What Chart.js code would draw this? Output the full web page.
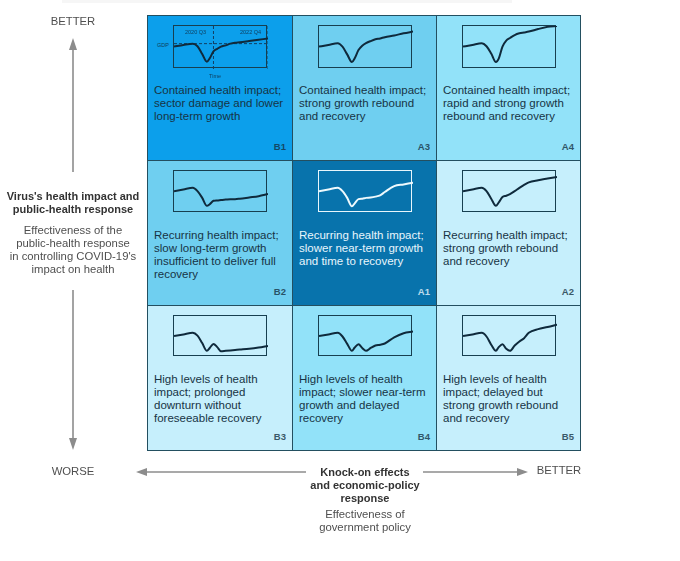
<!DOCTYPE html>
<html>
<head>
<meta charset="utf-8">
<script src="https://cdn.jsdelivr.net/npm/chart.js@4"></script>
<style>
  html, body { margin: 0; padding: 0; background: #fff; }
  body { width: 680px; height: 561px; position: relative; overflow: hidden; font-family: "Liberation Sans", sans-serif; filter: blur(0.3px); }
  #top-band { position: absolute; left: 62px; top: 0; width: 450px; height: 3px; background: #f6f6f6; }
  .cell { position: absolute; box-sizing: border-box; border: 1px solid #234f60; color: #173445; }
  .frame { position: absolute; box-sizing: border-box; border: 1.2px solid #173f50; }
  .frame canvas { position: absolute; left: 0; top: 0; }
  .desc { position: absolute; font-size: 11.5px; line-height: 12.9px; white-space: nowrap; }
  .code { position: absolute; font-size: 9.5px; font-weight: bold; right: 6px; bottom: 8px; opacity: .8; }
  .tiny { position: absolute; font-size: 5.5px; white-space: nowrap; color: #0f3d5c; }
  .label { position: absolute; text-align: center; white-space: nowrap; color: #4f4f4f; font-size: 11.3px; line-height: 12.9px; transform: translateX(-50%); }
  .label.strong { font-weight: bold; font-size: 11px; color: #333; }
  svg { position: absolute; left: 0; top: 0; }
</style>
</head>
<body>
<div id="top-band"></div>
<div id="grid"></div>
<svg width="680" height="561">
  <g stroke="#8c8c8c" stroke-width="1.6" fill="#8c8c8c">
    <line x1="73" y1="172" x2="73" y2="46"/><path d="M73 38 L69 50 L77 50 Z" stroke="none"/>
    <line x1="73" y1="290" x2="73" y2="440"/><path d="M73 450 L69 438 L77 438 Z" stroke="none"/>
    <line x1="145" y1="472" x2="306" y2="472"/><path d="M136 472 L147 468 L147 476 Z" stroke="none"/>
    <line x1="423" y1="472" x2="520" y2="472"/><path d="M528 472 L517 468 L517 476 Z" stroke="none"/>
  </g>
</svg>
<div class="label" style="left:73px;top:15px">BETTER</div>
<div class="label strong" style="left:73px;top:190px">Virus's health impact and<br>public-health response</div>
<div class="label" style="left:73px;top:224px">Effectiveness of the<br>public-health response<br>in controlling COVID-19's<br>impact on health</div>
<div class="label" style="left:73px;top:465px">WORSE</div>
<div class="label strong" style="left:365px;top:466px">Knock-on effects<br>and economic-policy<br>response</div>
<div class="label" style="left:365px;top:508px">Effectiveness of<br>government policy</div>
<div class="label" style="left:559px;top:464px">BETTER</div>

<script>
// Time axis shared by all the small charts (percent of the frame width)
const times = [0, 10, 20, 25, 30, 35, 38, 42, 46, 50, 55, 60, 65, 70, 80, 90, 100];

// GDP curves (percent of the frame height)
const gdpB1 = [52, 56, 59, 53, 35, 17, 25, 41, 47, 52, 55, 59, 61, 62, 65, 68, 71];
const gdpA3 = [52, 56, 60, 52, 34, 16, 25, 44, 54, 60, 65, 69, 71, 74, 78, 83, 87];
const gdpA4 = [52, 56, 60, 53, 36, 16, 24, 52, 66, 72, 79, 83, 85, 87, 93, 98, 100];
const gdpB2 = [52, 56, 60, 52, 36, 17, 21, 29, 30, 31, 32, 33, 33, 34, 37, 40, 45];
const gdpA1 = [52, 56, 60, 52, 36, 16, 23, 33, 34, 36, 37, 39, 42, 50, 64, 68, 72];
const gdpA2 = [52, 56, 60, 52, 34, 17, 25, 38, 41, 45, 52, 60, 67, 73, 78, 82, 86];
const gdpB3 = [51, 55, 59, 52, 34, 15, 22, 32, 24, 14, 15, 16, 17, 18, 20, 23, 27];
const gdpB4 = [51, 55, 59, 50, 32, 15, 23, 31, 22, 15, 22, 28, 30, 33, 48, 58, 62];
const gdpB5 = [51, 55, 59, 50, 30, 15, 24, 31, 20, 15, 28, 38, 46, 59, 68, 73, 79];

// Reference lines of the first chart: GDP level and the two dates
const refLevel = [59, 59];
const refLevelTimes = [0, 100];
const refDates = [42, 100];
const refDateRange = [0, 100];

// Cells, left to right and top to bottom
const cellCodes = ["B1", "A3", "A4", "B2", "A1", "A2", "B3", "B4", "B5"];
const cellSeries = [gdpB1, gdpA3, gdpA4, gdpB2, gdpA1, gdpA2, gdpB3, gdpB4, gdpB5];
const cellColors = ["#0c9feb", "#6fcff0", "#92e2f9", "#6fcff0", "#0873ac", "#c6effc", "#c6effc", "#92e2f9", "#c6effc"];
const cellTexts = [
    "Contained health impact;<br>sector damage and lower<br>long-term growth",
    "Contained health impact;<br>strong growth rebound<br>and recovery",
    "Contained health impact;<br>rapid and strong growth<br>rebound and recovery",
    "Recurring health impact;<br>slow long-term growth<br>insufficient to deliver full<br>recovery",
    "Recurring health impact;<br>slower near-term growth<br>and time to recovery",
    "Recurring health impact;<br>strong growth rebound<br>and recovery",
    "High levels of health<br>impact; prolonged<br>downturn without<br>foreseeable recovery",
    "High levels of health<br>impact; slower near-term<br>growth and delayed<br>recovery",
    "High levels of health<br>impact; delayed but<br>strong growth rebound<br>and recovery"
];

const colLeft = [147, 292, 436];
const colWidth = [146, 145, 145];
const rowTop = [15, 160, 305];
const rowHeight = [146, 146, 146];
const frameHeights = [43, 42, 41];
const textTops = [68, 68, 67];
const grid = document.getElementById("grid");

// Builds the dashed helper lines that only the first chart has
function referenceLines() {
    const dashed = { borderColor: "#123f63", borderWidth: 1, borderDash: [3, 2], pointRadius: 0, tension: 0 };
    const lines = [{ ...dashed, data: refLevelTimes.map((t, i) => ({ x: t, y: refLevel[i] })) }];
    for (const d of refDates) {
        lines.push({ ...dashed, data: refDateRange.map(v => ({ x: d, y: v })) });
    }
    return lines;
}

cellCodes.forEach((code, i) => {
    const col = i % 3;
    const row = Math.floor(i / 3);
    const light = code === "A1";

    const cell = document.createElement("div");
    cell.className = "cell";
    cell.style.cssText = `left:${colLeft[col]}px;top:${rowTop[row]}px;width:${colWidth[col]}px;height:${rowHeight[row]}px;background:${cellColors[i]};`;
    if (light) cell.style.color = "#e8f6fc";
    cell.innerHTML = `<div class="desc" style="left:6px;top:${textTops[row]}px">${cellTexts[i]}</div><div class="code">${code}</div>`;
    grid.appendChild(cell);

    const frame = document.createElement("div");
    frame.className = "frame";
    const frameWidth = 94;
    const frameHeight = frameHeights[row];
    frame.style.cssText = `left:${25}px;top:${9}px;width:${frameWidth}px;height:${frameHeight}px;`;
    if (light) frame.style.borderColor = "#e8f6fc";
    const canvas = document.createElement("canvas");
    canvas.width = frameWidth;
    canvas.height = frameHeight;
    canvas.style.width = frameWidth + "px";
    canvas.style.height = frameHeight + "px";
    frame.appendChild(canvas);
    cell.appendChild(frame);

    const datasets = [{
        data: times.map((t, k) => ({ x: t, y: cellSeries[i][k] })),
        borderColor: light ? "#eef9fd" : "#0f2a3c",
        borderWidth: 2,
        pointRadius: 0,
        cubicInterpolationMode: "monotone"
    }];
    if (code === "B1") datasets.push(...referenceLines());

    new Chart(canvas, {
        type: "line",
        data: { datasets },
        options: {
            responsive: false,
            animation: false,
            layout: { padding: 0 },
            plugins: { legend: { display: false }, tooltip: { enabled: false } },
            scales: {
                x: { type: "linear", min: 0, max: 100, display: false },
                y: { min: 0, max: 100, display: false }
            }
        }
    });

    // The first chart also names its axes and dates
    if (code === "B1") {
        cell.insertAdjacentHTML("beforeend",
            '<div class="tiny" style="left:9px;top:26px">GDP</div>' +
            '<div class="tiny" style="left:37px;top:13px">2020 Q3</div>' +
            '<div class="tiny" style="left:92px;top:13px">2022 Q4</div>' +
            '<div class="tiny" style="left:61px;top:57px">Time</div>');
    }
});
</script>
</body>
</html>
